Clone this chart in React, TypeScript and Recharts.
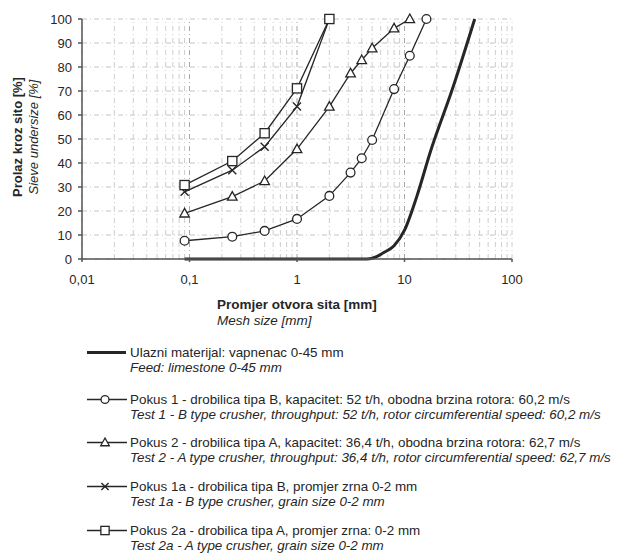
import { LineChart, Line, XAxis, YAxis, CartesianGrid, ReferenceLine } from 'recharts';

// sieve sizes [mm] and passing [%]
const feedSizes = [0.09, 4.5, 5.5, 6.3, 8, 10, 13, 17.5, 28, 45];
const feedPassing = [0, 0, 1, 2.5, 5.5, 12, 26, 45, 71, 100];

const test1Sizes = [0.09, 0.25, 0.5, 1, 2, 3.15, 4, 5, 8, 11.2, 16];
const test1Passing = [7.6, 9.3, 11.7, 16.7, 26.3, 36, 42, 49.6, 70.8, 84.7, 100];

const test2Sizes = [0.09, 0.25, 0.5, 1, 2, 3.15, 4, 5, 8, 11.2];
const test2Passing = [19, 26, 32.5, 45.8, 63.5, 77.4, 82.9, 87.8, 96.1, 100];

const fineSizes = [0.09, 0.25, 0.5, 1, 2];
const test1aPassing = [28, 37, 46.8, 63.5, 100];
const test2aPassing = [30.8, 40.8, 52.4, 71.1, 100];

const xTicks = [0.01, 0.1, 1, 10, 100];
const yTicks = [0, 10, 20, 30, 40, 50, 60, 70, 80, 90, 100];

const legendItems = [
  { marker: 'feed', hr: 'Ulazni materijal: vapnenac 0-45 mm', en: 'Feed: limestone 0-45 mm' },
  {
    marker: 'circle',
    hr: 'Pokus 1 - drobilica tipa B, kapacitet: 52 t/h, obodna brzina rotora: 60,2 m/s',
    en: 'Test 1 - B type crusher, throughput: 52 t/h, rotor circumferential speed: 60,2 m/s',
  },
  {
    marker: 'triangle',
    hr: 'Pokus 2 - drobilica tipa A, kapacitet: 36,4 t/h, obodna brzina rotora: 62,7 m/s',
    en: 'Test 2 - A type crusher, throughput: 36,4 t/h, rotor circumferential speed: 62,7 m/s',
  },
  { marker: 'cross', hr: 'Pokus 1a - drobilica tipa B, promjer zrna 0-2 mm', en: 'Test 1a - B type crusher, grain size 0-2 mm' },
  { marker: 'square', hr: 'Pokus 2a - drobilica tipa A, promjer zrna: 0-2 mm', en: 'Test 2a - A type crusher, grain size 0-2 mm' },
];

const toRows = (xs: number[], ys: number[]) => xs.map((x, i) => ({ x, y: ys[i] }));

// log grid lines: 1..9 in every decade
const gridX: number[] = [];
[0.01, 0.1, 1, 10].forEach((d) => {
  for (let k = 1; k < 10; k++) gridX.push(+(d * k).toPrecision(3));
});
gridX.push(100);

const INK = '#262626';
const FONT = '"Liberation Sans", Arial, sans-serif';

function drawMarker(kind: string, cx: number, cy: number, key?: string, s = 1) {
  const common = { fill: '#fff', stroke: INK, strokeWidth: 1.3 };
  if (kind === 'circle') return <circle key={key} cx={cx} cy={cy} r={4.4 * s} {...common} />;
  if (kind === 'triangle')
    return (
      <path
        key={key}
        d={`M${cx},${cy - 5 * s} L${cx + 4.8 * s},${cy + 3.6 * s} L${cx - 4.8 * s},${cy + 3.6 * s} Z`}
        {...common}
      />
    );
  if (kind === 'square')
    return <rect key={key} x={cx - 4.6 * s} y={cy - 4.6 * s} width={9.2 * s} height={9.2 * s} {...common} />;
  if (kind === 'cross')
    return (
      <path
        key={key}
        d={`M${cx - 4 * s},${cy - 4 * s} L${cx + 4 * s},${cy + 4 * s} M${cx + 4 * s},${cy - 4 * s} L${cx - 4 * s},${cy + 4 * s}`}
        stroke={INK}
        strokeWidth={1.4}
        fill="none"
      />
    );
  return null;
}

const dotOf = (kind: string) => (p: any) => drawMarker(kind, p.cx, p.cy, `${kind}-${p.index}`);

function YTitle(props: any) {
  const vb = props.viewBox;
  const cy = vb.y + vb.height / 2 - 2;
  return (
    <g fontFamily={FONT} fill={INK} fontSize={13}>
      <text x={21.5} y={cy} transform={`rotate(-90 21.5 ${cy})`} textAnchor="middle" fontWeight="bold">
        Prolaz kroz sito [%]
      </text>
      <text x={37.5} y={cy} transform={`rotate(-90 37.5 ${cy})`} textAnchor="middle" fontStyle="italic">
        Sieve undersize [%]
      </text>
    </g>
  );
}

function XTitle(props: any) {
  const vb = props.viewBox;
  return (
    <g fontFamily={FONT} fill={INK} fontSize={13.5}>
      <text x={vb.x + 135} y={vb.y + 50} fontWeight="bold">
        Promjer otvora sita [mm]
      </text>
      <text x={vb.x + 135} y={vb.y + 66} fontStyle="italic">
        Mesh size [mm]
      </text>
    </g>
  );
}

function LegendBlock() {
  return (
    <div style={{ position: 'absolute', left: 85, top: 345, fontFamily: FONT, fontSize: 13.4, color: INK, lineHeight: '15px' }}>
      {legendItems.map((item, i) => (
        <div key={i} style={{ marginBottom: i === 0 ? 16.5 : 13.8 }}>
          <div style={{ display: 'flex', alignItems: 'center', whiteSpace: 'nowrap' }}>
            <svg width={45} height={15} style={{ flex: 'none' }}>
              {item.marker === 'feed' ? (
                <line x1={2} y1={7.5} x2={41} y2={7.5} stroke={INK} strokeWidth={3} />
              ) : (
                <>
                  <line x1={2} y1={7.5} x2={42} y2={7.5} stroke={INK} strokeWidth={1.3} />
                  {drawMarker(item.marker, 20, 7.5, undefined, 0.9)}
                </>
              )}
            </svg>
            <span>{item.hr}</span>
          </div>
          <div style={{ paddingLeft: 45, fontStyle: 'italic', whiteSpace: 'nowrap' }}>{item.en}</div>
        </div>
      ))}
    </div>
  );
}

export default function App() {
  return (
    <div style={{ position: 'absolute', left: 0, top: 0, width: 617, height: 556, background: '#fff', overflow: 'hidden' }}>
      <LineChart width={617} height={556} margin={{ top: 19, right: 105, left: 0, bottom: 237 }}>
        <CartesianGrid vertical={false} stroke="#c4c4c4" strokeDasharray="5 3 1 3" />
        {gridX.map((v) => (
          <ReferenceLine
            key={v}
            x={v}
            stroke={[0.1, 1, 10].includes(v) ? '#a8a8a8' : '#cdcdcd'}
            strokeDasharray="5 3 1 3"
          />
        ))}
        <XAxis
          dataKey="x"
          type="number"
          scale="log"
          domain={[0.01, 100]}
          ticks={xTicks}
          allowDataOverflow
          height={60}
          tickSize={3}
          tickMargin={13}
          stroke="#555"
          strokeWidth={1.5}
          tick={{ fill: INK, fontSize: 13, fontFamily: FONT }}
          tickFormatter={(v: number) => String(v).replace('.', ',')}
          label={{ content: XTitle }}
        />
        <YAxis
          type="number"
          domain={[0, 100]}
          ticks={yTicks}
          width={82}
          tickSize={4}
          tickMargin={6}
          stroke="#555"
          strokeWidth={1.5}
          tick={{ fill: INK, fontSize: 13, fontFamily: FONT }}
          label={{ content: YTitle }}
        />
        <Line
          data={toRows(feedSizes, feedPassing)}
          dataKey="y"
          type="monotone"
          stroke={INK}
          strokeWidth={3}
          dot={false}
          isAnimationActive={false}
        />
        <Line
          data={toRows(test1Sizes, test1Passing)}
          dataKey="y"
          type="linear"
          stroke={INK}
          strokeWidth={1.3}
          dot={dotOf('circle')}
          isAnimationActive={false}
        />
        <Line
          data={toRows(test2Sizes, test2Passing)}
          dataKey="y"
          type="linear"
          stroke={INK}
          strokeWidth={1.3}
          dot={dotOf('triangle')}
          isAnimationActive={false}
        />
        <Line
          data={toRows(fineSizes, test1aPassing)}
          dataKey="y"
          type="linear"
          stroke={INK}
          strokeWidth={1.3}
          dot={dotOf('cross')}
          isAnimationActive={false}
        />
        <Line
          data={toRows(fineSizes, test2aPassing)}
          dataKey="y"
          type="linear"
          stroke={INK}
          strokeWidth={1.3}
          dot={dotOf('square')}
          isAnimationActive={false}
        />
      </LineChart>
      <LegendBlock />
    </div>
  );
}
